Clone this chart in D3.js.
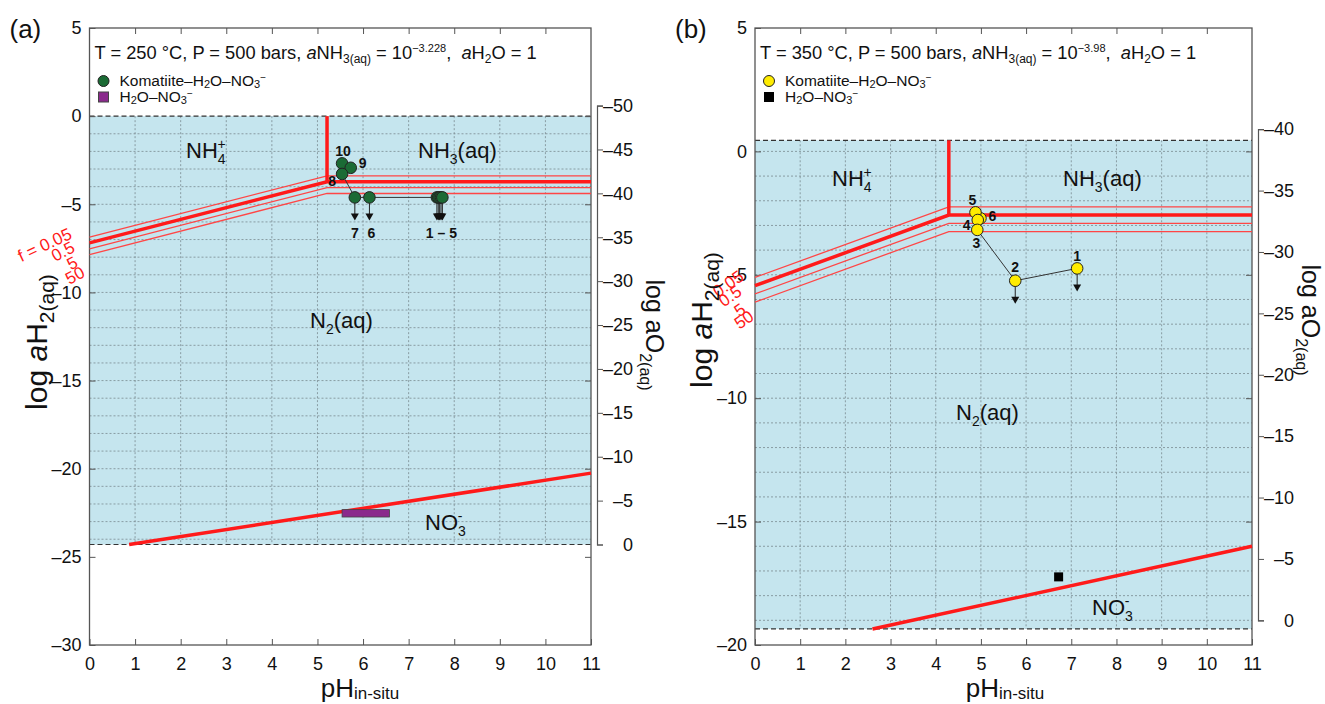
<!DOCTYPE html>
<html>
<head>
<meta charset="utf-8">
<script src="https://cdn.jsdelivr.net/npm/d3@7"></script>
<style>
body { margin: 0; background: #fff; }
svg { font-family: Arial, "Liberation Sans", sans-serif; }
</style>
</head>
<body>
<svg id="chart" width="1325" height="704"></svg>
<script>
// ---- values ----
const pHTicks = [0, 1, 2, 3, 4, 5, 6, 7, 8, 9, 10, 11];
const fShift = [0.333, 0, -0.333, -0.667];   // log aH2 offset of the f = 0.05 / 0.5 / 5 / 50 lines

// panel (a), 250 °C
const yTicksA = [5, 0, -5, -10, -15, -20, -25, -30];
const o2TicksA = [-50, -45, -40, -35, -30, -25, -20, -15, -10, -5, 0];
const waterA = [0, -24.3];
const o2RefA = [[-50, 0.6], [0, -24.3]];     // log aO2 <-> log aH2
const nh3LineA = [[0, -7.19], [5.21, -3.72], [11, -3.72]];
const nh4VertA = [[5.21, 0], [5.21, -3.72]];
const no3LineA = [[0.87, -24.3], [11, -20.25]];
const fLabelsA = ['f = 0.05', '0.5', '5', '50'];
const ptNamesA = ['1', '2', '3', '4', '5', '6', '7', '8', '9', '10'];
const ptPHA = [7.74, 7.71, 7.68, 7.65, 7.62, 6.14, 5.82, 5.54, 5.73, 5.54];
const ptH2A = [-4.61, -4.61, -4.61, -4.61, -4.61, -4.61, -4.61, -3.28, -2.93, -2.68];
const ptLimitA = [1, 1, 1, 1, 1, 1, 1, 0, 0, 0];
const boxA = [5.54, 6.58, -22.32, -22.74];   // pH min, pH max, log aH2 top, bottom

// panel (b), 350 °C
const yTicksB = [5, 0, -5, -10, -15, -20];
const o2TicksB = [-40, -35, -30, -25, -20, -15, -10, -5, 0];
const waterB = [0.45, -19.35];
const o2RefB = [[-40, 0.9], [0, -19.0]];
const nh3LineB = [[0, -5.44], [4.29, -2.58], [11, -2.58]];
const nh4VertB = [[4.29, 0.45], [4.29, -2.58]];
const no3LineB = [[2.6, -19.35], [11, -16.0]];
const fLabelsB = ['0.05', '0.5', '5', '50'];
const ptNamesB = ['1', '2', '3', '4', '5', '6'];
const ptPHB = [7.13, 5.76, 4.92, 4.93, 4.88, 4.99];
const ptH2B = [-4.74, -5.24, -3.18, -2.78, -2.47, -2.71];
const ptLimitB = [1, 1, 0, 0, 0, 0];
const squareB = [6.72, -17.24];

const svg = d3.select('#chart');
const RED = '#ff1a1a';

// rich text with sub/superscripts
function rich(sel, parts, base) {
  let shift = 0;
  parts.forEach(p => {
    const to = p.s || 0;
    const ts = sel.append('tspan').text(p.t)
      .attr('dy', to - shift)
      .style('font-size', (p.z || base) + 'px');
    if (p.i) ts.style('font-style', 'italic');
    if (p.dx) ts.attr('dx', p.dx);
    shift = to;
  });
  return sel;
}

function drawPanel(p) {
  const x = d3.scaleLinear().domain([0, 11]).range([p.left, p.right]);
  const y = d3.scaleLinear().domain(p.yDomain).range([28, 645]);
  const o2 = d3.scaleLinear().domain(p.o2Ref.map(d => d[0])).range(p.o2Ref.map(d => y(d[1])));
  const g = svg.append('g');
  const line = d3.line().x(d => x(d[0])).y(d => y(d[1]));

  // water stability field
  g.append('rect')
    .attr('x', x(0)).attr('width', x(11) - x(0))
    .attr('y', y(p.water[0])).attr('height', y(p.water[1]) - y(p.water[0]))
    .attr('fill', '#c5e5ee');

  // dotted grid inside the field
  const hLines = d3.range(Math.floor(p.water[0]), p.water[1], -1).filter(v => v < p.water[0] && v > p.water[1]);
  g.selectAll('.gh').data(hLines).enter().append('line')
    .attr('x1', x(0)).attr('x2', x(11))
    .attr('y1', d => y(d)).attr('y2', d => y(d))
    .attr('stroke', '#7a8a90').attr('stroke-width', 0.8).attr('stroke-dasharray', '2,2');
  g.selectAll('.gv').data(pHTicks.slice(1, -1)).enter().append('line')
    .attr('x1', d => x(d)).attr('x2', d => x(d))
    .attr('y1', y(p.water[0])).attr('y2', y(p.water[1]))
    .attr('stroke', '#7a8a90').attr('stroke-width', 0.8).attr('stroke-dasharray', '2,2');

  // water limits
  g.selectAll('.wl').data(p.water).enter().append('line')
    .attr('x1', x(0)).attr('x2', x(11))
    .attr('y1', d => y(d)).attr('y2', d => y(d))
    .attr('stroke', '#333').attr('stroke-width', 1.2).attr('stroke-dasharray', '5,3');

  // frame and inward ticks
  g.append('rect')
    .attr('x', x(0)).attr('y', y(p.yDomain[0]))
    .attr('width', x(11) - x(0)).attr('height', y(p.yDomain[1]) - y(p.yDomain[0]))
    .attr('fill', 'none').attr('stroke', '#555').attr('stroke-width', 1.3);

  g.append('g').attr('transform', `translate(0,${y(p.yDomain[1])})`)
    .call(d3.axisBottom(x).tickValues(pHTicks).tickSize(-6).tickPadding(12).tickFormat(d3.format('d')))
    .call(a => a.select('.domain').remove())
    .call(a => a.selectAll('line').attr('stroke', '#555'))
    .call(a => a.selectAll('text').attr('font-size', 18).attr('font-family', null).attr('fill', '#111'));
  g.append('g').attr('transform', `translate(0,${y(p.yDomain[0])})`)
    .call(d3.axisTop(x).tickValues(pHTicks.slice(1, -1)).tickSize(-6).tickFormat(''))
    .call(a => a.select('.domain').remove())
    .call(a => a.selectAll('line').attr('stroke', '#555'));
  g.append('g').attr('transform', `translate(${x(0)},0)`)
    .call(d3.axisLeft(y).tickValues(p.yTicks).tickSize(-6).tickPadding(8)
      .tickFormat(d => d < 0 ? '–' + (-d) : d))
    .call(a => a.select('.domain').remove())
    .call(a => a.selectAll('line').attr('stroke', '#555'))
    .call(a => a.selectAll('text').attr('font-size', 18).attr('font-family', null).attr('fill', '#111'));
  g.append('g').attr('transform', `translate(${x(11)},0)`)
    .call(d3.axisRight(y).tickValues(p.yTicks.slice(1, -1)).tickSize(-6).tickFormat(''))
    .call(a => a.select('.domain').remove())
    .call(a => a.selectAll('line').attr('stroke', '#555'));

  // log aO2 axis on the right
  const ax = x(11) + 6;
  g.append('g').attr('transform', `translate(${ax},0)`)
    .call(d3.axisRight(o2).tickValues(p.o2Ticks).tickSize(6).tickPadding(30)
      .tickFormat(d => d < 0 ? '–' + (-d) : d))
    .call(a => a.select('.domain').attr('stroke', '#555').attr('stroke-width', 1.2))
    .call(a => a.selectAll('line').attr('stroke', '#555'))
    .call(a => a.selectAll('text').attr('font-size', 18).attr('font-family', null)
      .attr('fill', '#111').attr('text-anchor', 'end'));

  // N2 / NH4+ / NH3 boundaries for each f
  fShift.forEach(s => {
    g.append('path')
      .attr('d', line(p.nh3Line.map(d => [d[0], d[1] + s])))
      .attr('fill', 'none').attr('stroke', s === 0 ? RED : '#ff4646')
      .attr('stroke-width', s === 0 ? 3.5 : 1.3);
  });
  g.append('path').attr('d', line(p.nh4Vert))
    .attr('fill', 'none').attr('stroke', RED).attr('stroke-width', 3.5);
  g.append('path').attr('d', line(p.no3Line))
    .attr('fill', 'none').attr('stroke', RED).attr('stroke-width', 3.5);

  // f labels
  p.fLabels.forEach((t, i) => {
    const q = p.fPos[i];
    g.append('text').text(t)
      .attr('transform', `translate(${q[0]},${q[1]}) rotate(${q[2]})`)
      .attr('text-anchor', 'end').attr('fill', RED).attr('font-size', 17);
  });

  // region labels
  p.regions.forEach(r => {
    rich(g.append('text').attr('x', r.x).attr('y', r.y).attr('fill', '#111'), r.parts, 22);
  });

  // samples
  const pts = p.ptPH.map((v, i) => ({ ph: v, h2: p.ptH2[i], name: p.ptNames[i], lim: p.ptLimit[i], i }));
  g.append('path').attr('d', line(pts.map(d => [d.ph, d.h2])))
    .attr('fill', 'none').attr('stroke', '#333').attr('stroke-width', 1);
  pts.filter(d => d.lim).forEach(d => {
    const cx = x(d.ph), cy = y(d.h2);
    g.append('line').attr('x1', cx).attr('x2', cx).attr('y1', cy).attr('y2', cy + 17)
      .attr('stroke', '#222').attr('stroke-width', 1);
    g.append('path').attr('d', `M${cx - 4},${cy + 16}L${cx + 4},${cy + 16}L${cx},${cy + 23}Z`)
      .attr('fill', '#111');
  });
  g.selectAll('.pt').data(pts.slice().reverse()).enter().append('circle')
    .attr('cx', d => x(d.ph)).attr('cy', d => y(d.h2)).attr('r', 5.8)
    .attr('fill', p.ptColor).attr('stroke', '#222').attr('stroke-width', 1);
  p.ptText.forEach(t => {
    const d = pts[t.k];
    g.append('text').text(t.t)
      .attr('x', x(d.ph) + t.dx).attr('y', y(d.h2) + t.dy)
      .attr('text-anchor', 'middle').attr('dominant-baseline', 'central')
      .attr('font-size', 14).attr('font-weight', 'bold')
      .attr('font-family', '"Liberation Sans Narrow", "Arial Narrow", Arial, sans-serif')
      .attr('fill', '#111');
  });

  // H2O-NO3- reference
  p.extra(g, x, y);

  // legend
  const t = g.append('text').attr('x', p.left + 5).attr('y', 59).attr('fill', '#111').style('white-space', 'pre');
  rich(t, p.title, 18.3);
  p.legendMark(g, p.left + 14, 81, 'c');
  rich(g.append('text').attr('x', p.left + 30).attr('y', 86).attr('fill', '#111'),
    [{ t: 'Komatiite–H' }, { t: '2', z: 11, s: 2 }, { t: 'O–NO' }, { t: '3', z: 11, s: 2 }, { t: '−', z: 10, s: -5 }], 15.5);
  p.legendMark(g, p.left + 14, 97, 's');
  rich(g.append('text').attr('x', p.left + 30).attr('y', 102).attr('fill', '#111'),
    [{ t: 'H' }, { t: '2', z: 11, s: 2 }, { t: 'O–NO' }, { t: '3', z: 11, s: 2 }, { t: '−', z: 10, s: -5 }], 15.5);

  // axis titles
  const yt = g.append('text').attr('transform', `translate(${p.left - 43},${p.yTitleY}) rotate(-90)`)
    .attr('text-anchor', 'middle').attr('fill', '#111');
  rich(yt, [{ t: 'log ' }, { t: 'a', i: true }, { t: 'H' }, { t: '2(aq)', z: 21, s: 7 }], 30);
  const rt = g.append('text').attr('transform', `translate(${x(11) + p.rTitleDx},${p.rTitleY}) rotate(90)`)
    .attr('text-anchor', 'middle').attr('fill', '#111');
  rich(rt, [{ t: 'log a' }, { t: 'O' }, { t: '2(aq)', z: 16, s: 6 }], 25);
  const xt = g.append('text').attr('x', p.xTitleX).attr('y', 697)
    .attr('text-anchor', 'middle').attr('fill', '#111');
  rich(xt, [{ t: 'pH' }, { t: 'in-situ', z: 17, s: 2 }], 26);

  g.append('text').text(p.tag).attr('x', p.left - 80).attr('y', 38)
    .attr('font-size', 26).attr('fill', '#111');
}

drawPanel({
  tag: '(a)', left: 89.5, right: 591, yDomain: [5, -30], yTicks: yTicksA,
  o2Ticks: o2TicksA, o2Ref: o2RefA, water: waterA,
  nh3Line: nh3LineA, nh4Vert: nh4VertA, no3Line: no3LineA,
  fLabels: fLabelsA, fPos: [[73, 238, -25], [76, 251, -28], [79, 266, -28], [86, 276, -28]],
  ptPH: ptPHA, ptH2: ptH2A, ptNames: ptNamesA, ptLimit: ptLimitA, ptColor: '#1b6b35',
  ptText: [{ k: 9, t: '10', dx: 1, dy: -12 }, { k: 8, t: '9', dx: 12, dy: -5 }, { k: 7, t: '8', dx: -10, dy: 7 },
    { k: 6, t: '7', dx: 0, dy: 36 }, { k: 5, t: '6', dx: 2, dy: 36 }, { k: 0, t: '1 – 5', dx: -1, dy: 36 }],
  yTitleY: 342, rTitleY: 335, rTitleDx: 55, xTitleX: 360,
  regions: [
    { x: 186, y: 158, parts: [{ t: 'NH' }, { t: '4', z: 14, s: 6 }, { t: '+', z: 14, s: -9, dx: -8 }] },
    { x: 418, y: 158, parts: [{ t: 'NH' }, { t: '3', z: 14, s: 6 }, { t: '(aq)' }] },
    { x: 310, y: 328, parts: [{ t: 'N' }, { t: '2', z: 14, s: 6 }, { t: '(aq)' }] },
    { x: 425, y: 530, parts: [{ t: 'NO' }, { t: '3', z: 14, s: 6 }, { t: '-', z: 14, s: -9, dx: -8 }] }
  ],
  title: [{ t: 'T = 250 °C, P = 500 bars, ' }, { t: 'a', i: true }, { t: 'NH' }, { t: '3(aq)', z: 12, s: 4 },
    { t: ' = 10' }, { t: '−3.228', z: 11, s: -7 }, { t: ',  ' }, { t: 'a', i: true }, { t: 'H' },
    { t: '2', z: 12, s: 4 }, { t: 'O = 1' }],
  extra: (g, x, y) => {
    g.append('rect').attr('x', x(boxA[0])).attr('width', x(boxA[1]) - x(boxA[0]))
      .attr('y', y(boxA[2])).attr('height', y(boxA[3]) - y(boxA[2]))
      .attr('fill', '#8a2a8c').attr('stroke', '#444').attr('stroke-width', 0.8);
  },
  legendMark: (g, cx, cy, k) => {
    if (k === 'c') g.append('circle').attr('cx', cx).attr('cy', cy).attr('r', 5.5)
      .attr('fill', '#1b6b35').attr('stroke', '#222');
    else g.append('rect').attr('x', cx - 5).attr('y', cy - 5).attr('width', 10).attr('height', 10)
      .attr('fill', '#8a2a8c').attr('stroke', '#444');
  }
});

drawPanel({
  tag: '(b)', left: 755, right: 1252, yDomain: [5, -20], yTicks: yTicksB,
  o2Ticks: o2TicksB, o2Ref: o2RefB, water: waterB,
  nh3Line: nh3LineB, nh4Vert: nh4VertB, no3Line: no3LineB,
  fLabels: fLabelsB, fPos: [[745, 279, -35], [743, 294, -35], [747, 312, -35], [755, 319, -35]],
  ptPH: ptPHB, ptH2: ptH2B, ptNames: ptNamesB, ptLimit: ptLimitB, ptColor: '#ffec00',
  ptText: [{ k: 4, t: '5', dx: -3, dy: -12 }, { k: 5, t: '6', dx: 12, dy: -2 }, { k: 3, t: '4', dx: -11, dy: 5 },
    { k: 2, t: '3', dx: -1, dy: 13 }, { k: 1, t: '2', dx: 0, dy: -14 }, { k: 0, t: '1', dx: 0, dy: -12 }],
  yTitleY: 320, rTitleY: 320, rTitleDx: 50, xTitleX: 1005,
  regions: [
    { x: 832, y: 186, parts: [{ t: 'NH' }, { t: '4', z: 14, s: 6 }, { t: '+', z: 14, s: -9, dx: -8 }] },
    { x: 1063, y: 186, parts: [{ t: 'NH' }, { t: '3', z: 14, s: 6 }, { t: '(aq)' }] },
    { x: 956, y: 420, parts: [{ t: 'N' }, { t: '2', z: 14, s: 6 }, { t: '(aq)' }] },
    { x: 1092, y: 615, parts: [{ t: 'NO' }, { t: '3', z: 14, s: 6 }, { t: '-', z: 14, s: -9, dx: -8 }] }
  ],
  title: [{ t: 'T = 350 °C, P = 500 bars, ' }, { t: 'a', i: true }, { t: 'NH' }, { t: '3(aq)', z: 12, s: 4 },
    { t: ' = 10' }, { t: '−3.98', z: 11, s: -7 }, { t: ',  ' }, { t: 'a', i: true }, { t: 'H' },
    { t: '2', z: 12, s: 4 }, { t: 'O = 1' }],
  extra: (g, x, y) => {
    g.append('rect').attr('x', x(squareB[0]) - 4.5).attr('y', y(squareB[1]) - 4.5)
      .attr('width', 9).attr('height', 9).attr('fill', '#000');
  },
  legendMark: (g, cx, cy, k) => {
    if (k === 'c') g.append('circle').attr('cx', cx).attr('cy', cy).attr('r', 5.5)
      .attr('fill', '#ffec00').attr('stroke', '#222');
    else g.append('rect').attr('x', cx - 5).attr('y', cy - 5).attr('width', 10).attr('height', 10)
      .attr('fill', '#000');
  }
});
</script>
</body>
</html>
